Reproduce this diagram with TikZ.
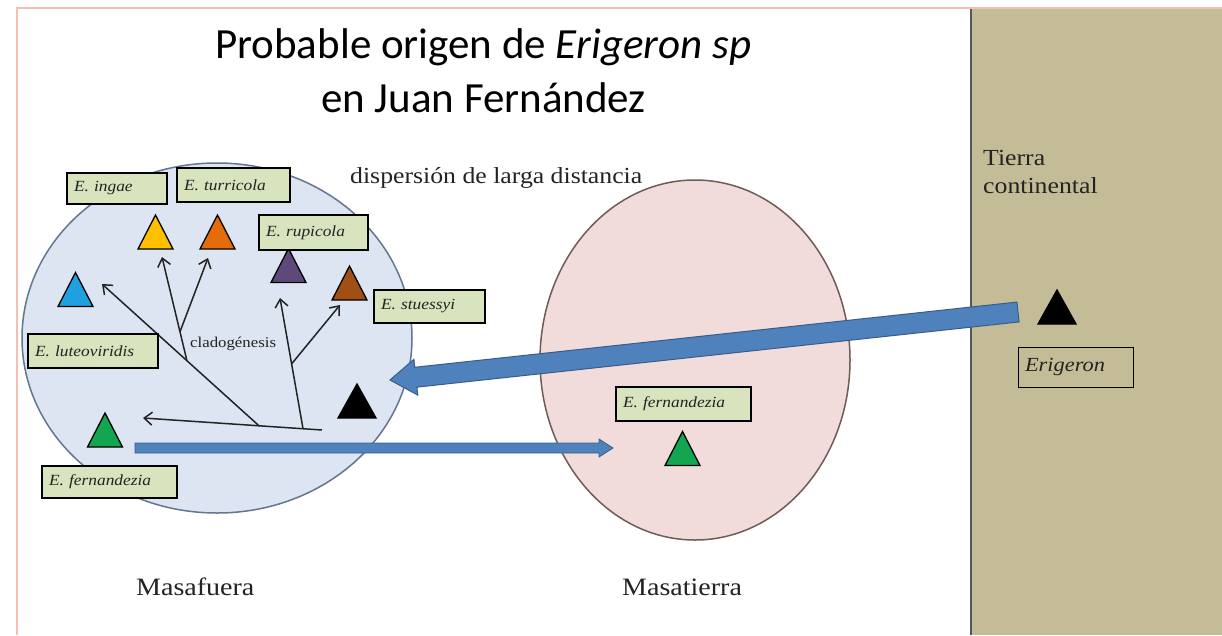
\documentclass[tikz,border=0pt]{standalone}
\usepackage{fontspec}
\setmainfont{Liberation Serif}
\newfontfamily\cam[FakeStretch=1.12]{Liberation Serif}
\newfontfamily\titlefont{Carlito}
\usetikzlibrary{calc,arrows.meta,shapes.geometric}
\definecolor{pinkline}{RGB}{248,190,178}
\definecolor{tan}{RGB}{196,187,151}
\definecolor{tanline}{RGB}{80,88,96}
\definecolor{mfill}{RGB}{220,229,241}
\definecolor{mline}{RGB}{100,118,142}
\definecolor{tfill}{RGB}{242,220,219}
\definecolor{tline}{RGB}{110,92,86}
\definecolor{labgreen}{RGB}{215,228,189}
\definecolor{arrblue}{RGB}{79,129,189}
\definecolor{arrline}{RGB}{56,93,138}
\definecolor{tyellow}{RGB}{255,192,0}
\definecolor{torange}{RGB}{228,108,10}
\definecolor{tblue}{RGB}{30,160,225}
\definecolor{tpurple}{RGB}{95,73,122}
\definecolor{tbrown}{RGB}{160,80,20}
\definecolor{tgreen}{RGB}{20,165,80}
\definecolor{txt}{RGB}{35,35,35}
\newcommand\tri[4][17.5]{%
  \coordinate (#2) at (#3);
  \filldraw[trishape, fill=#4] ($(#2)+(0,-17)$) -- ($(#2)+(-#1,17)$) -- ($(#2)+(#1,17)$) -- cycle;}
\begin{document}
\begin{tikzpicture}[x=1pt,y=-1pt,
  trishape/.style={draw=black, line width=1.3pt, line join=miter},
  lab/.style={draw=black, line width=1.2pt, fill=labgreen, text=txt,
    font=\cam\itshape\fontsize{15.5}{18}\selectfont, inner xsep=7pt, inner ysep=0pt,
    align=left},
  plain/.style={inner sep=0pt, text=txt, font=\cam\fontsize{23}{26}\selectfont},
  clado/.style={line width=1.5pt, draw=txt, -{Straight Barb[length=8pt,width=13pt,line width=1.5pt]}},
  block/.style={fill=arrblue, draw=arrline, line width=1pt, line join=miter}]
\useasboundingbox (0,0) rectangle (1222,635);
\fill[white] (0,0) rectangle (1222,635);
% slide frame
\draw[pinkline, line width=2pt] (17,635) -- (17,8) -- (1222,8);
\fill[tan] (971,9) rectangle (1222,635);
\draw[tanline, line width=2pt] (971,9) -- (971,635);

% islands
\node[ellipse, draw=mline, fill=mfill, line width=1.5pt, minimum width=390pt, minimum height=350pt] (masafuera) at (217,338) {};
\node[ellipse, draw=tline, fill=tfill, line width=1.5pt, minimum width=310pt, minimum height=360pt] (masatierra) at (695,360) {};

% titles and texts
\node[anchor=base west, inner sep=0pt, text=black, font=\titlefont\fontsize{43}{50}\selectfont] (t1) at (215,58) {Probable origen de \textit{Erigeron sp}};
\node[anchor=base west, inner sep=0pt, text=black, font=\titlefont\fontsize{43}{50}\selectfont] (t2) at (321,112) {en Juan Fernández};
\node[plain, anchor=base west] (disp) at (350,183) {dispersión de larga distancia};
\node[plain, anchor=base west] (tierra) at (983,165) {Tierra};
\node[plain, anchor=base west] (cont) at (983,193) {continental};
\node[plain, anchor=base west, font=\cam\fontsize{25}{28}\selectfont] (mf) at (136,595) {Masafuera};
\node[plain, anchor=base west, font=\cam\fontsize{25}{28}\selectfont] (mt) at (622,595) {Masatierra};
\node[plain, anchor=base west, font=\cam\fontsize{15}{17}\selectfont] (clad) at (190,347) {cladogénesis};

% triangles
\tri{yellow}{155.5,232}{tyellow}
\tri{orange}{217.5,232}{torange}
\tri{blue}{75.5,289.5}{tblue}
\tri{purple}{288.5,265.5}{tpurple}
\tri{brown}{349.5,283}{tbrown}
\tri[19]{blackL}{357,401}{black}
\tri{greenL}{105,430}{tgreen}
\tri{greenR}{682.5,448.5}{tgreen}
\tri[19]{blackR}{1057,307}{black}

% cladogenesis tree
\coordinate (r0) at (322,430);
\coordinate (tipL) at (143,418);
\coordinate (tipBlue) at (102,284);
\coordinate (tipYellow) at (162,257);
\coordinate (tipOrange) at (208,258);
\coordinate (tipPurple) at (280,298);
\coordinate (tipBrown) at (340,305);
\coordinate (j1) at ($(r0)!0.352!(tipL)$);
\coordinate (j2) at ($(r0)!0.106!(tipL)$);
\draw[clado] (r0) -- (tipL);
\draw[clado] (j1) -- (tipBlue);
\coordinate (jA) at ($(j1)!0.459!(tipBlue)$);
\draw[clado] (jA) -- (tipYellow);
\coordinate (jO) at ($(jA)!0.279!(tipYellow)$);
\draw[clado] (jO) -- (tipOrange);
\draw[clado] (j2) -- (tipPurple);
\coordinate (jB) at ($(j2)!0.496!(tipPurple)$);
\draw[clado] (jB) -- (tipBrown);

% big dispersal arrow (from continent to Masafuera)
\coordinate (bt) at (1018,312);
\coordinate (bh) at (390,380);
\coordinate (hb) at ($(bh)!26pt!(bt)$);
\draw[block] ($(bt)!10pt!90:(bh)$) -- ($(hb)!10pt!90:(bh)$) -- ($(hb)!18pt!90:(bh)$) -- (bh)
  -- ($(hb)!18pt!-90:(bh)$) -- ($(hb)!10pt!-90:(bh)$) -- ($(bt)!10pt!-90:(bh)$) -- cycle;

% small arrow Masafuera -> Masatierra
\coordinate (st) at (135,448);
\coordinate (sh) at (613,448);
\coordinate (sb) at ($(sh)!14pt!(st)$);
\draw[block, line width=0.8pt] ($(st)!5pt!90:(sh)$) -- ($(sb)!5pt!90:(sh)$) -- ($(sb)!9pt!90:(sh)$) -- (sh)
  -- ($(sb)!9pt!-90:(sh)$) -- ($(sb)!5pt!-90:(sh)$) -- ($(st)!5pt!-90:(sh)$) -- cycle;

% species labels
\node[lab, text width=86pt, minimum height=31pt] (lingae) at (117,188.5) {E. ingae};
\node[lab, text width=99pt, minimum height=34pt] (lturr) at (233.5,185) {E. turricola};
\node[lab, text width=95pt, minimum height=35pt] (lrupi) at (313.5,232.5) {E. rupicola};
\node[lab, text width=97pt, minimum height=33pt] (lstue) at (429.5,306.5) {E. stuessyi};
\node[lab, text width=116pt, minimum height=34pt] (llute) at (93,351) {E. luteoviridis};
\node[lab, text width=121pt, minimum height=32pt] (lfernL) at (109.5,482) {E. fernandezia};
\node[lab, text width=121pt, minimum height=34pt] (lfernR) at (683.5,404) {E. fernandezia};
\node[lab, fill=tan, line width=1pt, text width=101pt, minimum height=40pt, font=\cam\itshape\fontsize{20}{22}\selectfont] (lerig) at (1075.5,367) {Erigeron};
\end{tikzpicture}
\end{document}
